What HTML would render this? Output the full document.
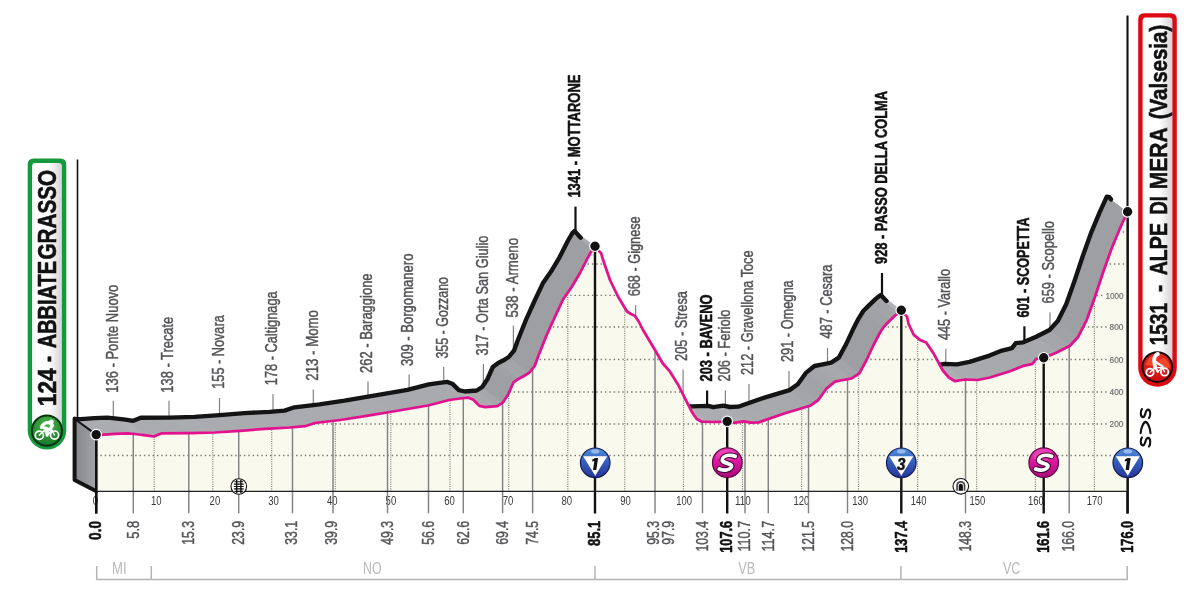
<!DOCTYPE html>
<html><head><meta charset="utf-8"><title>Stage profile</title>
<style>
html,body{margin:0;padding:0;background:#ffffff;}
body{width:1200px;height:600px;overflow:hidden;position:relative;font-family:"Liberation Sans", sans-serif;}
svg text{font-family:"Liberation Sans", sans-serif;}
</style></head>
<body>
<svg width="1200" height="600" viewBox="0 0 1200 600" style="position:absolute;left:0;top:0;will-change:transform">
<defs>
<linearGradient id="gbox" x1="0" x2="1" y1="0" y2="0"><stop offset="0" stop-color="#ffffff"/><stop offset="0.55" stop-color="#ffffff"/><stop offset="1" stop-color="#d3d3d8"/></linearGradient>
<linearGradient id="gface" x1="0" x2="1" y1="0" y2="0"><stop offset="0" stop-color="#86878b"/><stop offset="1" stop-color="#a3a4a8"/></linearGradient>
<linearGradient id="gkom" x1="0" x2="0" y1="0" y2="1"><stop offset="0" stop-color="#4f8fdd"/><stop offset="0.45" stop-color="#3560bd"/><stop offset="1" stop-color="#28359a"/></linearGradient>
<linearGradient id="gspr" x1="0" x2="0" y1="0" y2="1"><stop offset="0" stop-color="#ee3cb6"/><stop offset="0.5" stop-color="#d8159c"/><stop offset="1" stop-color="#a80d7a"/></linearGradient>
<radialGradient id="ggreen" cx="0.5" cy="0.3" r="0.75"><stop offset="0" stop-color="#4db848"/><stop offset="1" stop-color="#14702a"/></radialGradient>
<radialGradient id="gred" cx="0.5" cy="0.3" r="0.75"><stop offset="0" stop-color="#f0302a"/><stop offset="1" stop-color="#c40a12"/></radialGradient>
</defs>
<g id="leaders">
<line x1="113.3" x2="113.3" y1="400.7" y2="418.2" stroke="#828280" stroke-width="1.2"/>
<line x1="169.0" x2="169.0" y1="400.7" y2="417.6" stroke="#828280" stroke-width="1.2"/>
<line x1="219.5" x2="219.5" y1="398.0" y2="415.1" stroke="#828280" stroke-width="1.2"/>
<line x1="273.0" x2="273.0" y1="394.0" y2="411.5" stroke="#828280" stroke-width="1.2"/>
<line x1="313.3" x2="313.3" y1="389.5" y2="405.0" stroke="#828280" stroke-width="1.2"/>
<line x1="368.0" x2="368.0" y1="381.4" y2="396.6" stroke="#828280" stroke-width="1.2"/>
<line x1="409.1" x2="409.1" y1="374.5" y2="389.4" stroke="#828280" stroke-width="1.2"/>
<line x1="443.7" x2="443.7" y1="367.0" y2="382.3" stroke="#828280" stroke-width="1.2"/>
<line x1="483.4" x2="483.4" y1="364.0" y2="385.2" stroke="#828280" stroke-width="1.2"/>
<line x1="513.4" x2="513.4" y1="325.6" y2="351.3" stroke="#828280" stroke-width="1.2"/>
<line x1="575.5" x2="575.5" y1="206.6" y2="232.1" stroke="#111" stroke-width="2.2"/>
<line x1="635.6" x2="635.6" y1="305.0" y2="336.2" stroke="#828280" stroke-width="1.2"/>
<line x1="683.1" x2="683.1" y1="369.5" y2="406.1" stroke="#828280" stroke-width="1.2"/>
<line x1="707.1" x2="707.1" y1="390.5" y2="405.9" stroke="#111" stroke-width="2.2"/>
<line x1="725.4" x2="725.4" y1="390.5" y2="406.0" stroke="#828280" stroke-width="1.2"/>
<line x1="749.0" x2="749.0" y1="384.0" y2="402.9" stroke="#828280" stroke-width="1.2"/>
<line x1="789.0" x2="789.0" y1="371.0" y2="390.3" stroke="#828280" stroke-width="1.2"/>
<line x1="827.5" x2="827.5" y1="348.0" y2="363.3" stroke="#828280" stroke-width="1.2"/>
<line x1="882.0" x2="882.0" y1="273.0" y2="296.2" stroke="#111" stroke-width="2.2"/>
<line x1="945.8" x2="945.8" y1="348.8" y2="363.9" stroke="#828280" stroke-width="1.2"/>
<line x1="1024.4" x2="1024.4" y1="326.3" y2="341.8" stroke="#111" stroke-width="2.2"/>
<line x1="1050.0" x2="1050.0" y1="312.5" y2="329.5" stroke="#828280" stroke-width="1.2"/>
</g>
<line x1="77.5" x2="77.5" y1="159.5" y2="419" stroke="#111" stroke-width="1.6"/>
<line x1="1127.5" x2="1127.5" y1="15.6" y2="513.5" stroke="#111" stroke-width="2.1"/>
<g fill="#a9aaae" stroke="#a9aaae" stroke-width="0.5" stroke-linejoin="round">
<polygon points="75.7,419.1 80.8,419.1 94.5,418.2 107.0,417.6 114.5,418.3 125.5,419.7 133.2,420.8 140.8,417.7 169.5,417.6 194.5,416.8 219.5,415.1 244.5,413.1 269.5,411.8 284.5,410.6 294.5,407.3 319.5,404.3 344.5,400.6 369.5,396.3 407.5,389.8 428.8,384.3 439.5,382.8 447.5,381.9 452.8,384.1 458.8,390.1 464.8,391.5 476.8,390.5 482.2,387.0 487.5,379.0 492.8,367.0 498.2,363.0 503.5,360.3 508.8,357.0 514.2,350.3 517.8,340.3 526.2,319.3 534.5,301.0 542.8,283.3 551.2,271.3 559.5,257.3 567.8,241.0 572.5,232.9 574.5,231.0 580.7,237.7 582.1,242.8 589.5,264.3 597.5,280.8 606.5,295.8 610.5,298.3 614.5,300.3 618.5,306.3 622.5,314.3 634.5,334.3 642.0,347.3 649.5,356.0 657.8,369.3 664.5,382.6 671.2,396.0 676.2,403.3 681.2,406.0 691.5,406.3 708.3,405.9 713.3,407.2 723.3,405.6 730.0,407.0 738.3,406.7 746.7,403.7 764.5,397.6 781.2,392.6 789.5,390.1 797.8,384.3 806.2,372.6 814.5,366.0 822.8,364.3 831.2,362.6 838.8,357.6 845.8,344.8 852.8,329.8 858.7,318.3 863.3,311.0 869.2,305.1 875.7,298.9 878.7,296.5 880.8,294.9 886.5,300.9 888.1,308.3 893.2,319.3 899.5,324.3 905.8,326.8 913.2,338.1 922.0,354.3 928.2,361.8 934.5,365.6 944.5,363.8 957.0,364.3 969.5,361.8 989.5,355.6 1002.0,350.6 1012.0,348.1 1015.8,343.1 1023.2,342.3 1036.2,336.8 1049.5,330.0 1057.8,321.0 1066.2,304.3 1074.5,281.0 1082.8,256.0 1091.2,232.6 1099.5,212.6 1106.8,196.6 1127.3,212.3 1120.0,228.3 1111.7,248.3 1103.3,271.7 1095.0,296.7 1086.7,320.0 1078.3,336.7 1070.0,345.7 1056.7,352.5 1043.8,358.0 1036.2,358.8 1032.5,363.8 1022.5,366.2 1010.0,371.2 990.0,377.5 977.5,380.0 965.0,379.5 955.0,381.2 948.8,377.5 942.5,370.0 933.8,353.8 926.2,342.5 920.0,340.0 913.8,335.0 908.6,324.0 907.0,316.6 901.3,310.6 899.2,312.2 896.2,314.6 889.7,320.8 883.8,326.7 879.2,334.0 873.3,345.5 866.3,360.5 859.3,373.3 851.7,378.3 843.3,380.0 835.0,381.7 826.7,388.3 818.3,400.0 810.0,405.8 801.7,408.3 785.0,413.3 767.2,419.4 758.8,422.4 750.5,422.7 743.8,421.3 733.8,422.9 728.8,421.6 712.0,422.0 701.7,421.7 696.7,419.0 691.7,411.7 685.0,398.3 678.3,385.0 670.0,371.7 662.5,363.0 655.0,350.0 643.0,330.0 639.0,322.0 635.0,316.0 631.0,314.0 627.0,311.5 618.0,296.5 610.0,280.0 602.6,258.5 601.2,253.4 595.0,246.7 593.0,248.6 588.3,256.7 580.0,273.0 571.7,287.0 563.3,299.0 555.0,316.7 546.7,335.0 538.3,356.0 534.7,366.0 529.3,372.7 524.0,376.0 518.7,378.7 513.3,382.7 508.0,394.7 502.7,402.7 497.3,406.2 485.3,407.2 479.3,405.8 473.3,399.8 468.0,397.6 460.0,398.5 449.3,400.0 428.0,405.5 390.0,412.0 365.0,416.2 340.0,420.0 315.0,423.0 305.0,426.2 290.0,427.5 265.0,428.8 240.0,430.8 215.0,432.5 190.0,433.2 161.2,433.4 153.8,436.5 146.0,435.4 135.0,434.0 127.5,433.3 115.0,433.9 101.3,434.8 96.2,434.8" stroke="none"/>
<polygon points="96.2,434.8 101.3,434.8 80.8,419.1 75.7,419.1" fill="#abacb0" stroke="#abacb0"/>
<polygon points="101.3,434.8 115.0,433.9 94.5,418.2 80.8,419.1" fill="#abacb0" stroke="#abacb0"/>
<polygon points="115.0,433.9 127.5,433.3 107.0,417.6 94.5,418.2" fill="#abacb0" stroke="#abacb0"/>
<polygon points="127.5,433.3 135.0,434.0 114.5,418.3 107.0,417.6" fill="#adaeb2" stroke="#adaeb2"/>
<polygon points="135.0,434.0 146.0,435.4 125.5,419.7 114.5,418.3" fill="#b0b1b5" stroke="#b0b1b5"/>
<polygon points="146.0,435.4 153.8,436.5 133.2,420.8 125.5,419.7" fill="#abacb0" stroke="#abacb0"/>
<polygon points="153.8,436.5 161.2,433.4 140.8,417.7 133.2,420.8" fill="#abacb0" stroke="#abacb0"/>
<polygon points="161.2,433.4 190.0,433.2 169.5,417.6 140.8,417.7" fill="#aaabaf" stroke="#aaabaf"/>
<polygon points="190.0,433.2 215.0,432.5 194.5,416.8 169.5,417.6" fill="#abacb0" stroke="#abacb0"/>
<polygon points="215.0,432.5 240.0,430.8 219.5,415.1 194.5,416.8" fill="#aaabaf" stroke="#aaabaf"/>
<polygon points="240.0,430.8 265.0,428.8 244.5,413.1 219.5,415.1" fill="#aaabaf" stroke="#aaabaf"/>
<polygon points="265.0,428.8 290.0,427.5 269.5,411.8 244.5,413.1" fill="#aaabaf" stroke="#aaabaf"/>
<polygon points="290.0,427.5 305.0,426.2 284.5,410.6 269.5,411.8" fill="#aaabaf" stroke="#aaabaf"/>
<polygon points="305.0,426.2 315.0,423.0 294.5,407.3 284.5,410.6" fill="#aaabaf" stroke="#aaabaf"/>
<polygon points="315.0,423.0 340.0,420.0 319.5,404.3 294.5,407.3" fill="#aaabaf" stroke="#aaabaf"/>
<polygon points="340.0,420.0 365.0,416.2 344.5,400.6 319.5,404.3" fill="#aaabaf" stroke="#aaabaf"/>
<polygon points="365.0,416.2 390.0,412.0 369.5,396.3 344.5,400.6" fill="#aaabaf" stroke="#aaabaf"/>
<polygon points="390.0,412.0 428.0,405.5 407.5,389.8 369.5,396.3" fill="#a9aaae" stroke="#a9aaae"/>
<polygon points="428.0,405.5 449.3,400.0 428.8,384.3 407.5,389.8" fill="#a9aaae" stroke="#a9aaae"/>
<polygon points="449.3,400.0 460.0,398.5 439.5,382.8 428.8,384.3" fill="#a9aaae" stroke="#a9aaae"/>
<polygon points="460.0,398.5 468.0,397.6 447.5,381.9 439.5,382.8" fill="#abacb0" stroke="#abacb0"/>
<polygon points="468.0,397.6 473.3,399.8 452.8,384.1 447.5,381.9" fill="#babbbf" stroke="#babbbf"/>
<polygon points="473.3,399.8 479.3,405.8 458.8,390.1 452.8,384.1" fill="#babbbf" stroke="#babbbf"/>
<polygon points="479.3,405.8 485.3,407.2 464.8,391.5 458.8,390.1" fill="#b6b7bb" stroke="#b6b7bb"/>
<polygon points="485.3,407.2 497.3,406.2 476.8,390.5 464.8,391.5" fill="#aaabaf" stroke="#aaabaf"/>
<polygon points="497.3,406.2 502.7,402.7 482.2,387.0 476.8,390.5" fill="#a6a7ab" stroke="#a6a7ab"/>
<polygon points="502.7,402.7 508.0,394.7 487.5,379.0 482.2,387.0" fill="#9e9fa3" stroke="#9e9fa3"/>
<polygon points="508.0,394.7 513.3,382.7 492.8,367.0 487.5,379.0" fill="#9e9fa3" stroke="#9e9fa3"/>
<polygon points="513.3,382.7 518.7,378.7 498.2,363.0 492.8,367.0" fill="#a0a1a5" stroke="#a0a1a5"/>
<polygon points="518.7,378.7 524.0,376.0 503.5,360.3 498.2,363.0" fill="#a5a6aa" stroke="#a5a6aa"/>
<polygon points="524.0,376.0 529.3,372.7 508.8,357.0 503.5,360.3" fill="#a4a5a9" stroke="#a4a5a9"/>
<polygon points="529.3,372.7 534.7,366.0 514.2,350.3 508.8,357.0" fill="#9e9fa3" stroke="#9e9fa3"/>
<polygon points="534.7,366.0 538.3,356.0 517.8,340.3 514.2,350.3" fill="#9e9fa3" stroke="#9e9fa3"/>
<polygon points="538.3,356.0 546.7,335.0 526.2,319.3 517.8,340.3" fill="#9e9fa3" stroke="#9e9fa3"/>
<polygon points="546.7,335.0 555.0,316.7 534.5,301.0 526.2,319.3" fill="#9e9fa3" stroke="#9e9fa3"/>
<polygon points="555.0,316.7 563.3,299.0 542.8,283.3 534.5,301.0" fill="#9e9fa3" stroke="#9e9fa3"/>
<polygon points="563.3,299.0 571.7,287.0 551.2,271.3 542.8,283.3" fill="#9e9fa3" stroke="#9e9fa3"/>
<polygon points="571.7,287.0 580.0,273.0 559.5,257.3 551.2,271.3" fill="#9e9fa3" stroke="#9e9fa3"/>
<polygon points="580.0,273.0 588.3,256.7 567.8,241.0 559.5,257.3" fill="#9e9fa3" stroke="#9e9fa3"/>
<polygon points="588.3,256.7 593.0,248.6 572.5,232.9 567.8,241.0" fill="#9e9fa3" stroke="#9e9fa3"/>
<polygon points="593.0,248.6 595.0,246.7 574.5,231.0 572.5,232.9" fill="#a9aaae" stroke="#a9aaae"/>
<polygon points="595.0,246.7 601.2,253.4 580.7,237.7 574.5,231.0" fill="#a9aaae" stroke="#a9aaae"/>
<polygon points="627.0,311.5 631.0,314.0 610.5,298.3 606.5,295.8" fill="#bbbcc0" stroke="#bbbcc0"/>
<polygon points="631.0,314.0 635.0,316.0 614.5,300.3 610.5,298.3" fill="#bbbcc0" stroke="#bbbcc0"/>
<polygon points="662.5,363.0 670.0,371.7 649.5,356.0 642.0,347.3" fill="#bbbcc0" stroke="#bbbcc0"/>
<polygon points="696.7,419.0 701.7,421.7 681.2,406.0 676.2,403.3" fill="#bbbcc0" stroke="#bbbcc0"/>
<polygon points="701.7,421.7 712.0,422.0 691.5,406.3 681.2,406.0" fill="#aeafb3" stroke="#aeafb3"/>
<polygon points="712.0,422.0 728.8,421.6 708.3,405.9 691.5,406.3" fill="#acadb1" stroke="#acadb1"/>
<polygon points="728.8,421.6 733.8,422.9 713.3,407.2 708.3,405.9" fill="#abacb0" stroke="#abacb0"/>
<polygon points="733.8,422.9 743.8,421.3 723.3,405.6 713.3,407.2" fill="#adaeb2" stroke="#adaeb2"/>
<polygon points="743.8,421.3 750.5,422.7 730.0,407.0 723.3,405.6" fill="#abacb0" stroke="#abacb0"/>
<polygon points="750.5,422.7 758.8,422.4 738.3,406.7 730.0,407.0" fill="#aaabaf" stroke="#aaabaf"/>
<polygon points="758.8,422.4 767.2,419.4 746.7,403.7 738.3,406.7" fill="#a9aaae" stroke="#a9aaae"/>
<polygon points="767.2,419.4 785.0,413.3 764.5,397.6 746.7,403.7" fill="#a8a9ad" stroke="#a8a9ad"/>
<polygon points="785.0,413.3 801.7,408.3 781.2,392.6 764.5,397.6" fill="#a8a9ad" stroke="#a8a9ad"/>
<polygon points="801.7,408.3 810.0,405.8 789.5,390.1 781.2,392.6" fill="#a7a8ac" stroke="#a7a8ac"/>
<polygon points="810.0,405.8 818.3,400.0 797.8,384.3 789.5,390.1" fill="#a4a5a9" stroke="#a4a5a9"/>
<polygon points="818.3,400.0 826.7,388.3 806.2,372.6 797.8,384.3" fill="#a2a3a7" stroke="#a2a3a7"/>
<polygon points="826.7,388.3 835.0,381.7 814.5,366.0 806.2,372.6" fill="#a4a5a9" stroke="#a4a5a9"/>
<polygon points="835.0,381.7 843.3,380.0 822.8,364.3 814.5,366.0" fill="#a7a8ac" stroke="#a7a8ac"/>
<polygon points="843.3,380.0 851.7,378.3 831.2,362.6 822.8,364.3" fill="#a8a9ad" stroke="#a8a9ad"/>
<polygon points="851.7,378.3 859.3,373.3 838.8,357.6 831.2,362.6" fill="#a3a4a8" stroke="#a3a4a8"/>
<polygon points="859.3,373.3 866.3,360.5 845.8,344.8 838.8,357.6" fill="#9e9fa3" stroke="#9e9fa3"/>
<polygon points="866.3,360.5 873.3,345.5 852.8,329.8 845.8,344.8" fill="#9e9fa3" stroke="#9e9fa3"/>
<polygon points="873.3,345.5 879.2,334.0 858.7,318.3 852.8,329.8" fill="#9e9fa3" stroke="#9e9fa3"/>
<polygon points="879.2,334.0 883.8,326.7 863.3,311.0 858.7,318.3" fill="#9e9fa3" stroke="#9e9fa3"/>
<polygon points="883.8,326.7 889.7,320.8 869.2,305.1 863.3,311.0" fill="#a1a2a6" stroke="#a1a2a6"/>
<polygon points="889.7,320.8 896.2,314.6 875.7,298.9 869.2,305.1" fill="#a3a4a8" stroke="#a3a4a8"/>
<polygon points="896.2,314.6 899.2,312.2 878.7,296.5 875.7,298.9" fill="#a3a4a8" stroke="#a3a4a8"/>
<polygon points="899.2,312.2 901.3,310.6 880.8,294.9 878.7,296.5" fill="#b2b3b7" stroke="#b2b3b7"/>
<polygon points="901.3,310.6 907.0,316.6 886.5,300.9 880.8,294.9" fill="#b2b3b7" stroke="#b2b3b7"/>
<polygon points="913.8,335.0 920.0,340.0 899.5,324.3 893.2,319.3" fill="#b2b3b7" stroke="#b2b3b7"/>
<polygon points="920.0,340.0 926.2,342.5 905.8,326.8 899.5,324.3" fill="#bbbcc0" stroke="#bbbcc0"/>
<polygon points="942.5,370.0 948.8,377.5 928.2,361.8 922.0,354.3" fill="#bbbcc0" stroke="#bbbcc0"/>
<polygon points="948.8,377.5 955.0,381.2 934.5,365.6 928.2,361.8" fill="#bbbcc0" stroke="#bbbcc0"/>
<polygon points="955.0,381.2 965.0,379.5 944.5,363.8 934.5,365.6" fill="#aeafb3" stroke="#aeafb3"/>
<polygon points="965.0,379.5 977.5,380.0 957.0,364.3 944.5,363.8" fill="#aaabaf" stroke="#aaabaf"/>
<polygon points="977.5,380.0 990.0,377.5 969.5,361.8 957.0,364.3" fill="#a9aaae" stroke="#a9aaae"/>
<polygon points="990.0,377.5 1010.0,371.2 989.5,355.6 969.5,361.8" fill="#a8a9ad" stroke="#a8a9ad"/>
<polygon points="1010.0,371.2 1022.5,366.2 1002.0,350.6 989.5,355.6" fill="#a8a9ad" stroke="#a8a9ad"/>
<polygon points="1022.5,366.2 1032.5,363.8 1012.0,348.1 1002.0,350.6" fill="#a7a8ac" stroke="#a7a8ac"/>
<polygon points="1032.5,363.8 1036.2,358.8 1015.8,343.1 1012.0,348.1" fill="#a8a9ad" stroke="#a8a9ad"/>
<polygon points="1036.2,358.8 1043.8,358.0 1023.2,342.3 1015.8,343.1" fill="#a7a8ac" stroke="#a7a8ac"/>
<polygon points="1043.8,358.0 1056.7,352.5 1036.2,336.8 1023.2,342.3" fill="#a8a9ad" stroke="#a8a9ad"/>
<polygon points="1056.7,352.5 1070.0,345.7 1049.5,330.0 1036.2,336.8" fill="#a5a6aa" stroke="#a5a6aa"/>
<polygon points="1070.0,345.7 1078.3,336.7 1057.8,321.0 1049.5,330.0" fill="#a1a2a6" stroke="#a1a2a6"/>
<polygon points="1078.3,336.7 1086.7,320.0 1066.2,304.3 1057.8,321.0" fill="#9e9fa3" stroke="#9e9fa3"/>
<polygon points="1086.7,320.0 1095.0,296.7 1074.5,281.0 1066.2,304.3" fill="#9e9fa3" stroke="#9e9fa3"/>
<polygon points="1095.0,296.7 1103.3,271.7 1082.8,256.0 1074.5,281.0" fill="#9e9fa3" stroke="#9e9fa3"/>
<polygon points="1103.3,271.7 1111.7,248.3 1091.2,232.6 1082.8,256.0" fill="#9e9fa3" stroke="#9e9fa3"/>
<polygon points="1111.7,248.3 1120.0,228.3 1099.5,212.6 1091.2,232.6" fill="#9e9fa3" stroke="#9e9fa3"/>
<polygon points="1120.0,228.3 1127.3,212.3 1106.8,196.6 1099.5,212.6" fill="#9e9fa3" stroke="#9e9fa3"/>
</g>
<polyline points="75.7,419.1 80.8,419.1 94.5,418.2 107.0,417.6 114.5,418.3 125.5,419.7 133.2,420.8 140.8,417.7 169.5,417.6 194.5,416.8 219.5,415.1 244.5,413.1 269.5,411.8 284.5,410.6 294.5,407.3 319.5,404.3 344.5,400.6 369.5,396.3 407.5,389.8 428.8,384.3 439.5,382.8 447.5,381.9 452.8,384.1 458.8,390.1 464.8,391.5 476.8,390.5 482.2,387.0 487.5,379.0 492.8,367.0 498.2,363.0 503.5,360.3 508.8,357.0 514.2,350.3 517.8,340.3 526.2,319.3 534.5,301.0 542.8,283.3 551.2,271.3 559.5,257.3 567.8,241.0 572.5,232.9 574.5,231.0 580.7,237.7" fill="none" stroke="#141414" stroke-width="4.35" stroke-linejoin="round" stroke-linecap="round"/>
<polyline points="606.5,295.8 610.5,298.3 614.5,300.3" fill="none" stroke="#141414" stroke-width="4.35" stroke-linejoin="round" stroke-linecap="round"/>
<polyline points="642.0,347.3 649.5,356.0" fill="none" stroke="#141414" stroke-width="4.35" stroke-linejoin="round" stroke-linecap="round"/>
<polyline points="676.2,403.3 681.2,406.0 691.5,406.3 708.3,405.9 713.3,407.2 723.3,405.6 730.0,407.0 738.3,406.7 746.7,403.7 764.5,397.6 781.2,392.6 789.5,390.1 797.8,384.3 806.2,372.6 814.5,366.0 822.8,364.3 831.2,362.6 838.8,357.6 845.8,344.8 852.8,329.8 858.7,318.3 863.3,311.0 869.2,305.1 875.7,298.9 878.7,296.5 880.8,294.9 886.5,300.9" fill="none" stroke="#141414" stroke-width="4.35" stroke-linejoin="round" stroke-linecap="round"/>
<polyline points="893.2,319.3 899.5,324.3 905.8,326.8" fill="none" stroke="#141414" stroke-width="4.35" stroke-linejoin="round" stroke-linecap="round"/>
<polyline points="922.0,354.3 928.2,361.8 934.5,365.6 944.5,363.8 957.0,364.3 969.5,361.8 989.5,355.6 1002.0,350.6 1012.0,348.1 1015.8,343.1 1023.2,342.3 1036.2,336.8 1049.5,330.0 1057.8,321.0 1066.2,304.3 1074.5,281.0 1082.8,256.0 1091.2,232.6 1099.5,212.6 1106.8,196.6 1109.4,197.2 1111.0,199.4" fill="none" stroke="#141414" stroke-width="4.35" stroke-linejoin="round" stroke-linecap="round"/>
<polygon points="75.1,419.3 96.2,434.6 96.2,491.4 74.6,480.0" fill="url(#gface)"/>
<polyline points="74.6,418.6 74.6,480.0 96.4,491.2" fill="none" stroke="#141414" stroke-width="4" stroke-linejoin="round" stroke-linecap="round"/>
<line x1="75.5" y1="419.5" x2="96.2" y2="434.6" stroke="#141414" stroke-width="2"/>
<polygon points="96.2,434.8 101.3,434.8 115.0,433.9 127.5,433.3 135.0,434.0 146.0,435.4 153.8,436.5 161.2,433.4 190.0,433.2 215.0,432.5 240.0,430.8 265.0,428.8 290.0,427.5 305.0,426.2 315.0,423.0 340.0,420.0 365.0,416.2 390.0,412.0 428.0,405.5 449.3,400.0 460.0,398.5 468.0,397.6 473.3,399.8 479.3,405.8 485.3,407.2 497.3,406.2 502.7,402.7 508.0,394.7 513.3,382.7 518.7,378.7 524.0,376.0 529.3,372.7 534.7,366.0 538.3,356.0 546.7,335.0 555.0,316.7 563.3,299.0 571.7,287.0 580.0,273.0 588.3,256.7 593.0,248.6 595.0,246.7 601.2,253.4 602.6,258.5 610.0,280.0 618.0,296.5 627.0,311.5 631.0,314.0 635.0,316.0 639.0,322.0 643.0,330.0 655.0,350.0 662.5,363.0 670.0,371.7 678.3,385.0 685.0,398.3 691.7,411.7 696.7,419.0 701.7,421.7 712.0,422.0 728.8,421.6 733.8,422.9 743.8,421.3 750.5,422.7 758.8,422.4 767.2,419.4 785.0,413.3 801.7,408.3 810.0,405.8 818.3,400.0 826.7,388.3 835.0,381.7 843.3,380.0 851.7,378.3 859.3,373.3 866.3,360.5 873.3,345.5 879.2,334.0 883.8,326.7 889.7,320.8 896.2,314.6 899.2,312.2 901.3,310.6 907.0,316.6 908.6,324.0 913.8,335.0 920.0,340.0 926.2,342.5 933.8,353.8 942.5,370.0 948.8,377.5 955.0,381.2 965.0,379.5 977.5,380.0 990.0,377.5 1010.0,371.2 1022.5,366.2 1032.5,363.8 1036.2,358.8 1043.8,358.0 1056.7,352.5 1070.0,345.7 1078.3,336.7 1086.7,320.0 1095.0,296.7 1103.3,271.7 1111.7,248.3 1120.0,228.3 1127.3,212.3 1127.6,491.4 96.2,491.4" fill="#f9f9ee"/>
<clipPath id="cl"><polygon points="96.2,434.8 101.3,434.8 115.0,433.9 127.5,433.3 135.0,434.0 146.0,435.4 153.8,436.5 161.2,433.4 190.0,433.2 215.0,432.5 240.0,430.8 265.0,428.8 290.0,427.5 305.0,426.2 315.0,423.0 340.0,420.0 365.0,416.2 390.0,412.0 428.0,405.5 449.3,400.0 460.0,398.5 468.0,397.6 473.3,399.8 479.3,405.8 485.3,407.2 497.3,406.2 502.7,402.7 508.0,394.7 513.3,382.7 518.7,378.7 524.0,376.0 529.3,372.7 534.7,366.0 538.3,356.0 546.7,335.0 555.0,316.7 563.3,299.0 571.7,287.0 580.0,273.0 588.3,256.7 593.0,248.6 595.0,246.7 601.2,253.4 602.6,258.5 610.0,280.0 618.0,296.5 627.0,311.5 631.0,314.0 635.0,316.0 639.0,322.0 643.0,330.0 655.0,350.0 662.5,363.0 670.0,371.7 678.3,385.0 685.0,398.3 691.7,411.7 696.7,419.0 701.7,421.7 712.0,422.0 728.8,421.6 733.8,422.9 743.8,421.3 750.5,422.7 758.8,422.4 767.2,419.4 785.0,413.3 801.7,408.3 810.0,405.8 818.3,400.0 826.7,388.3 835.0,381.7 843.3,380.0 851.7,378.3 859.3,373.3 866.3,360.5 873.3,345.5 879.2,334.0 883.8,326.7 889.7,320.8 896.2,314.6 899.2,312.2 901.3,310.6 907.0,316.6 908.6,324.0 913.8,335.0 920.0,340.0 926.2,342.5 933.8,353.8 942.5,370.0 948.8,377.5 955.0,381.2 965.0,379.5 977.5,380.0 990.0,377.5 1010.0,371.2 1022.5,366.2 1032.5,363.8 1036.2,358.8 1043.8,358.0 1056.7,352.5 1070.0,345.7 1078.3,336.7 1086.7,320.0 1095.0,296.7 1103.3,271.7 1111.7,248.3 1120.0,228.3 1127.3,212.3 1127.6,491.4 96.2,491.4"/></clipPath>
<g clip-path="url(#cl)">
<line x1="96" x2="1128" y1="455.5" y2="455.5" stroke="#7c7c74" stroke-width="1.35" stroke-dasharray="1.45 2.9"/>
<line x1="96" x2="1128" y1="424.0" y2="424.0" stroke="#7c7c74" stroke-width="1.35" stroke-dasharray="1.45 2.9"/>
<line x1="96" x2="1128" y1="392.0" y2="392.0" stroke="#7c7c74" stroke-width="1.35" stroke-dasharray="1.45 2.9"/>
<line x1="96" x2="1128" y1="359.5" y2="359.5" stroke="#7c7c74" stroke-width="1.35" stroke-dasharray="1.45 2.9"/>
<line x1="96" x2="1128" y1="327.0" y2="327.0" stroke="#7c7c74" stroke-width="1.35" stroke-dasharray="1.45 2.9"/>
<line x1="96" x2="1128" y1="295.3" y2="295.3" stroke="#7c7c74" stroke-width="1.35" stroke-dasharray="1.45 2.9"/>
<line x1="96" x2="1128" y1="264.0" y2="264.0" stroke="#7c7c74" stroke-width="1.35" stroke-dasharray="1.45 2.9"/>
<line x1="96" x2="1128" y1="232.0" y2="232.0" stroke="#7c7c74" stroke-width="1.35" stroke-dasharray="1.45 2.9"/>
<line x1="154.2" x2="154.2" y1="180" y2="491.4" stroke="#85857d" stroke-width="1.25" stroke-dasharray="1.1 1.15"/>
<line x1="212.8" x2="212.8" y1="180" y2="491.4" stroke="#85857d" stroke-width="1.25" stroke-dasharray="1.1 1.15"/>
<line x1="271.7" x2="271.7" y1="180" y2="491.4" stroke="#85857d" stroke-width="1.25" stroke-dasharray="1.1 1.15"/>
<line x1="335.3" x2="335.3" y1="180" y2="491.4" stroke="#85857d" stroke-width="1.25" stroke-dasharray="1.1 1.15"/>
<line x1="390.8" x2="390.8" y1="180" y2="491.4" stroke="#85857d" stroke-width="1.25" stroke-dasharray="1.1 1.15"/>
<line x1="450.0" x2="450.0" y1="180" y2="491.4" stroke="#85857d" stroke-width="1.25" stroke-dasharray="1.1 1.15"/>
<line x1="508.7" x2="508.7" y1="180" y2="491.4" stroke="#85857d" stroke-width="1.25" stroke-dasharray="1.1 1.15"/>
<line x1="567.8" x2="567.8" y1="180" y2="491.4" stroke="#85857d" stroke-width="1.25" stroke-dasharray="1.1 1.15"/>
<line x1="624.7" x2="624.7" y1="180" y2="491.4" stroke="#85857d" stroke-width="1.25" stroke-dasharray="1.1 1.15"/>
<line x1="683.5" x2="683.5" y1="180" y2="491.4" stroke="#85857d" stroke-width="1.25" stroke-dasharray="1.1 1.15"/>
<line x1="742.5" x2="742.5" y1="180" y2="491.4" stroke="#85857d" stroke-width="1.25" stroke-dasharray="1.1 1.15"/>
<line x1="801.6" x2="801.6" y1="180" y2="491.4" stroke="#85857d" stroke-width="1.25" stroke-dasharray="1.1 1.15"/>
<line x1="858.5" x2="858.5" y1="180" y2="491.4" stroke="#85857d" stroke-width="1.25" stroke-dasharray="1.1 1.15"/>
<line x1="917.6" x2="917.6" y1="180" y2="491.4" stroke="#85857d" stroke-width="1.25" stroke-dasharray="1.1 1.15"/>
<line x1="976.6" x2="976.6" y1="180" y2="491.4" stroke="#85857d" stroke-width="1.25" stroke-dasharray="1.1 1.15"/>
<line x1="1035.4" x2="1035.4" y1="180" y2="491.4" stroke="#85857d" stroke-width="1.25" stroke-dasharray="1.1 1.15"/>
<line x1="1094.4" x2="1094.4" y1="180" y2="491.4" stroke="#85857d" stroke-width="1.25" stroke-dasharray="1.1 1.15"/>
</g>
<g font-family='"Liberation Sans", sans-serif' font-size="12.2" fill="#3a3a3a" text-anchor="middle">
<text x="95.4" y="505" textLength="5.4" lengthAdjust="spacingAndGlyphs">0</text>
<text x="156.2" y="505" textLength="10.6" lengthAdjust="spacingAndGlyphs">10</text>
<text x="214.9" y="505" textLength="10.6" lengthAdjust="spacingAndGlyphs">20</text>
<text x="273.6" y="505" textLength="10.6" lengthAdjust="spacingAndGlyphs">30</text>
<text x="332.2" y="505" textLength="10.6" lengthAdjust="spacingAndGlyphs">40</text>
<text x="390.9" y="505" textLength="10.6" lengthAdjust="spacingAndGlyphs">50</text>
<text x="449.5" y="505" textLength="10.6" lengthAdjust="spacingAndGlyphs">60</text>
<text x="508.1" y="505" textLength="10.6" lengthAdjust="spacingAndGlyphs">70</text>
<text x="566.8" y="505" textLength="10.6" lengthAdjust="spacingAndGlyphs">80</text>
<text x="625.5" y="505" textLength="10.6" lengthAdjust="spacingAndGlyphs">90</text>
<text x="684.1" y="505" textLength="15.8" lengthAdjust="spacingAndGlyphs">100</text>
<text x="742.8" y="505" textLength="15.8" lengthAdjust="spacingAndGlyphs">110</text>
<text x="801.4" y="505" textLength="15.8" lengthAdjust="spacingAndGlyphs">120</text>
<text x="860.1" y="505" textLength="15.8" lengthAdjust="spacingAndGlyphs">130</text>
<text x="918.7" y="505" textLength="15.8" lengthAdjust="spacingAndGlyphs">140</text>
<text x="977.4" y="505" textLength="15.8" lengthAdjust="spacingAndGlyphs">150</text>
<text x="1036.0" y="505" textLength="15.8" lengthAdjust="spacingAndGlyphs">160</text>
<text x="1094.7" y="505" textLength="15.8" lengthAdjust="spacingAndGlyphs">170</text>
</g>
<line x1="96.2" x2="96.2" y1="434.8" y2="513.5" stroke="#111" stroke-width="2.4"/>
<line x1="133.3" x2="133.3" y1="433.8" y2="513.3" stroke="#828280" stroke-width="1.45"/>
<line x1="188.8" x2="188.8" y1="433.3" y2="513.3" stroke="#828280" stroke-width="1.45"/>
<line x1="238.7" x2="238.7" y1="430.8" y2="513.3" stroke="#828280" stroke-width="1.45"/>
<line x1="292.5" x2="292.5" y1="427.3" y2="513.3" stroke="#828280" stroke-width="1.45"/>
<line x1="333.0" x2="333.0" y1="420.8" y2="513.3" stroke="#828280" stroke-width="1.45"/>
<line x1="387.5" x2="387.5" y1="412.4" y2="513.3" stroke="#828280" stroke-width="1.45"/>
<line x1="428.5" x2="428.5" y1="405.4" y2="513.3" stroke="#828280" stroke-width="1.45"/>
<line x1="463.3" x2="463.3" y1="398.1" y2="513.3" stroke="#828280" stroke-width="1.45"/>
<line x1="502.6" x2="502.6" y1="402.8" y2="513.3" stroke="#828280" stroke-width="1.45"/>
<line x1="532.6" x2="532.6" y1="368.6" y2="513.3" stroke="#828280" stroke-width="1.45"/>
<line x1="595.0" x2="595.0" y1="246.7" y2="513.5" stroke="#111" stroke-width="2.4"/>
<line x1="655.0" x2="655.0" y1="350.0" y2="513.3" stroke="#828280" stroke-width="1.45"/>
<line x1="702.5" x2="702.5" y1="421.7" y2="513.3" stroke="#828280" stroke-width="1.45"/>
<line x1="727.2" x2="727.2" y1="421.6" y2="513.5" stroke="#111" stroke-width="2.4"/>
<line x1="745.0" x2="745.0" y1="421.6" y2="513.3" stroke="#828280" stroke-width="1.45"/>
<line x1="768.3" x2="768.3" y1="419.0" y2="513.3" stroke="#828280" stroke-width="1.45"/>
<line x1="808.5" x2="808.5" y1="406.3" y2="513.3" stroke="#828280" stroke-width="1.45"/>
<line x1="847.5" x2="847.5" y1="379.1" y2="513.3" stroke="#828280" stroke-width="1.45"/>
<line x1="901.3" x2="901.3" y1="310.6" y2="513.5" stroke="#111" stroke-width="2.4"/>
<line x1="965.5" x2="965.5" y1="379.5" y2="513.3" stroke="#828280" stroke-width="1.45"/>
<line x1="1043.7" x2="1043.7" y1="358.0" y2="513.5" stroke="#111" stroke-width="2.4"/>
<line x1="1069.2" x2="1069.2" y1="346.1" y2="513.3" stroke="#828280" stroke-width="1.45"/>
<line x1="1127.6" x2="1127.6" y1="212.3" y2="513.5" stroke="#111" stroke-width="2.4"/>
<line x1="96" x2="1128.5" y1="491.4" y2="491.4" stroke="#222" stroke-width="1.1"/>
<g font-family='"Liberation Sans", sans-serif'>
<text transform="translate(101.48,540.0) rotate(-90)" font-size="16.5" font-weight="bold" fill="#111" stroke="#111" stroke-width="0.55" textLength="19.2" lengthAdjust="spacingAndGlyphs">0.0</text>
<text transform="translate(138.58,538.8) rotate(-90)" font-size="16.5" fill="#525356" stroke="#525356" stroke-width="0.45" textLength="18.0" lengthAdjust="spacingAndGlyphs">5.8</text>
<text transform="translate(194.08,544.8) rotate(-90)" font-size="16.5" fill="#525356" stroke="#525356" stroke-width="0.45" textLength="24.0" lengthAdjust="spacingAndGlyphs">15.3</text>
<text transform="translate(243.98,544.8) rotate(-90)" font-size="16.5" fill="#525356" stroke="#525356" stroke-width="0.45" textLength="24.0" lengthAdjust="spacingAndGlyphs">23.9</text>
<text transform="translate(296.78,544.8) rotate(-90)" font-size="16.5" fill="#525356" stroke="#525356" stroke-width="0.45" textLength="24.0" lengthAdjust="spacingAndGlyphs">33.1</text>
<text transform="translate(336.88,544.8) rotate(-90)" font-size="16.5" fill="#525356" stroke="#525356" stroke-width="0.45" textLength="24.0" lengthAdjust="spacingAndGlyphs">39.9</text>
<text transform="translate(392.78,544.8) rotate(-90)" font-size="16.5" fill="#525356" stroke="#525356" stroke-width="0.45" textLength="24.0" lengthAdjust="spacingAndGlyphs">49.3</text>
<text transform="translate(433.78,544.8) rotate(-90)" font-size="16.5" fill="#525356" stroke="#525356" stroke-width="0.45" textLength="24.0" lengthAdjust="spacingAndGlyphs">56.6</text>
<text transform="translate(468.58,544.8) rotate(-90)" font-size="16.5" fill="#525356" stroke="#525356" stroke-width="0.45" textLength="24.0" lengthAdjust="spacingAndGlyphs">62.6</text>
<text transform="translate(507.88,544.8) rotate(-90)" font-size="16.5" fill="#525356" stroke="#525356" stroke-width="0.45" textLength="24.0" lengthAdjust="spacingAndGlyphs">69.4</text>
<text transform="translate(537.88,544.8) rotate(-90)" font-size="16.5" fill="#525356" stroke="#525356" stroke-width="0.45" textLength="24.0" lengthAdjust="spacingAndGlyphs">74.5</text>
<text transform="translate(600.28,546.0) rotate(-90)" font-size="16.5" font-weight="bold" fill="#111" stroke="#111" stroke-width="0.55" textLength="25.2" lengthAdjust="spacingAndGlyphs">85.1</text>
<text transform="translate(659.38,544.8) rotate(-90)" font-size="16.5" fill="#525356" stroke="#525356" stroke-width="0.45" textLength="24.0" lengthAdjust="spacingAndGlyphs">95.3</text>
<text transform="translate(673.68,544.8) rotate(-90)" font-size="16.5" fill="#525356" stroke="#525356" stroke-width="0.45" textLength="24.0" lengthAdjust="spacingAndGlyphs">97.9</text>
<text transform="translate(707.78,551.6) rotate(-90)" font-size="16.5" fill="#525356" stroke="#525356" stroke-width="0.45" textLength="30.8" lengthAdjust="spacingAndGlyphs">103.4</text>
<text transform="translate(732.48,552.8) rotate(-90)" font-size="16.5" font-weight="bold" fill="#111" stroke="#111" stroke-width="0.55" textLength="32.0" lengthAdjust="spacingAndGlyphs">107.6</text>
<text transform="translate(750.28,551.6) rotate(-90)" font-size="16.5" fill="#525356" stroke="#525356" stroke-width="0.45" textLength="30.8" lengthAdjust="spacingAndGlyphs">110.7</text>
<text transform="translate(773.58,551.6) rotate(-90)" font-size="16.5" fill="#525356" stroke="#525356" stroke-width="0.45" textLength="30.8" lengthAdjust="spacingAndGlyphs">114.7</text>
<text transform="translate(813.78,551.6) rotate(-90)" font-size="16.5" fill="#525356" stroke="#525356" stroke-width="0.45" textLength="30.8" lengthAdjust="spacingAndGlyphs">121.5</text>
<text transform="translate(852.78,551.6) rotate(-90)" font-size="16.5" fill="#525356" stroke="#525356" stroke-width="0.45" textLength="30.8" lengthAdjust="spacingAndGlyphs">128.0</text>
<text transform="translate(906.58,552.8) rotate(-90)" font-size="16.5" font-weight="bold" fill="#111" stroke="#111" stroke-width="0.55" textLength="32.0" lengthAdjust="spacingAndGlyphs">137.4</text>
<text transform="translate(970.78,551.6) rotate(-90)" font-size="16.5" fill="#525356" stroke="#525356" stroke-width="0.45" textLength="30.8" lengthAdjust="spacingAndGlyphs">148.3</text>
<text transform="translate(1048.98,552.8) rotate(-90)" font-size="16.5" font-weight="bold" fill="#111" stroke="#111" stroke-width="0.55" textLength="32.0" lengthAdjust="spacingAndGlyphs">161.6</text>
<text transform="translate(1074.48,551.6) rotate(-90)" font-size="16.5" fill="#525356" stroke="#525356" stroke-width="0.45" textLength="30.8" lengthAdjust="spacingAndGlyphs">166.0</text>
<text transform="translate(1132.88,552.8) rotate(-90)" font-size="16.5" font-weight="bold" fill="#111" stroke="#111" stroke-width="0.55" textLength="32.0" lengthAdjust="spacingAndGlyphs">176.0</text>
</g>
<polyline points="96.2,434.8 101.3,434.8 115.0,433.9 127.5,433.3 135.0,434.0 146.0,435.4 153.8,436.5 161.2,433.4 190.0,433.2 215.0,432.5 240.0,430.8 265.0,428.8 290.0,427.5 305.0,426.2 315.0,423.0 340.0,420.0 365.0,416.2 390.0,412.0 428.0,405.5 449.3,400.0 460.0,398.5 468.0,397.6 473.3,399.8 479.3,405.8 485.3,407.2 497.3,406.2 502.7,402.7 508.0,394.7 513.3,382.7 518.7,378.7 524.0,376.0 529.3,372.7 534.7,366.0 538.3,356.0 546.7,335.0 555.0,316.7 563.3,299.0 571.7,287.0 580.0,273.0 588.3,256.7 593.0,248.6 595.0,246.7 601.2,253.4 602.6,258.5 610.0,280.0 618.0,296.5 627.0,311.5 631.0,314.0 635.0,316.0 639.0,322.0 643.0,330.0 655.0,350.0 662.5,363.0 670.0,371.7 678.3,385.0 685.0,398.3 691.7,411.7 696.7,419.0 701.7,421.7 712.0,422.0 728.8,421.6 733.8,422.9 743.8,421.3 750.5,422.7 758.8,422.4 767.2,419.4 785.0,413.3 801.7,408.3 810.0,405.8 818.3,400.0 826.7,388.3 835.0,381.7 843.3,380.0 851.7,378.3 859.3,373.3 866.3,360.5 873.3,345.5 879.2,334.0 883.8,326.7 889.7,320.8 896.2,314.6 899.2,312.2 901.3,310.6 907.0,316.6 908.6,324.0 913.8,335.0 920.0,340.0 926.2,342.5 933.8,353.8 942.5,370.0 948.8,377.5 955.0,381.2 965.0,379.5 977.5,380.0 990.0,377.5 1010.0,371.2 1022.5,366.2 1032.5,363.8 1036.2,358.8 1043.8,358.0 1056.7,352.5 1070.0,345.7 1078.3,336.7 1086.7,320.0 1095.0,296.7 1103.3,271.7 1111.7,248.3 1120.0,228.3 1127.3,212.3" fill="none" stroke="#e2128e" stroke-width="2.75" stroke-linejoin="round" stroke-linecap="round"/>
<line x1="96.2" x2="96.2" y1="434.6" y2="513.5" stroke="#111" stroke-width="2.4"/>
<g font-family='"Liberation Sans", sans-serif' font-size="9.4" fill="#6e6f72" text-anchor="end">
<rect x="1108.9" y="420" width="14.9" height="8" fill="#f9f9ee"/>
<text x="1123.4" y="427.4" textLength="13.8" lengthAdjust="spacingAndGlyphs" stroke="#6e6f72" stroke-width="0.2">200</text>
<rect x="1108.9" y="388" width="14.9" height="8" fill="#f9f9ee"/>
<text x="1123.4" y="395.4" textLength="13.8" lengthAdjust="spacingAndGlyphs" stroke="#6e6f72" stroke-width="0.2">400</text>
<rect x="1108.9" y="355.3" width="14.9" height="8" fill="#f9f9ee"/>
<text x="1123.4" y="362.7" textLength="13.8" lengthAdjust="spacingAndGlyphs" stroke="#6e6f72" stroke-width="0.2">600</text>
<rect x="1108.9" y="322.8" width="14.9" height="8" fill="#f9f9ee"/>
<text x="1123.4" y="330.2" textLength="13.8" lengthAdjust="spacingAndGlyphs" stroke="#6e6f72" stroke-width="0.2">800</text>
<rect x="1104.7" y="291.4" width="19.1" height="8" fill="#f9f9ee"/>
<text x="1123.4" y="298.8" textLength="18.0" lengthAdjust="spacingAndGlyphs" stroke="#6e6f72" stroke-width="0.2">1000</text>
</g>
<circle cx="96.2" cy="434.6" r="5.3" fill="#111" stroke="#fff" stroke-width="1.2"/>
<circle cx="595" cy="246.2" r="5.3" fill="#111" stroke="#fff" stroke-width="1.2"/>
<circle cx="727.2" cy="421.4" r="5.3" fill="#111" stroke="#fff" stroke-width="1.2"/>
<circle cx="901.3" cy="310.2" r="5.3" fill="#111" stroke="#fff" stroke-width="1.2"/>
<circle cx="1043.7" cy="357.8" r="5.3" fill="#111" stroke="#fff" stroke-width="1.2"/>
<circle cx="1127.6" cy="211.8" r="5.3" fill="#111" stroke="#fff" stroke-width="1.2"/>
<g font-family='"Liberation Sans", sans-serif'>
<text transform="translate(117.67,392.7) rotate(-90)" font-size="16.5" fill="#525356" stroke="#525356" stroke-width="0.45" textLength="108.0" lengthAdjust="spacingAndGlyphs">136 - Ponte Nuovo</text>
<text transform="translate(173.37,392.7) rotate(-90)" font-size="16.5" fill="#525356" stroke="#525356" stroke-width="0.45" textLength="76.0" lengthAdjust="spacingAndGlyphs">138 - Trecate</text>
<text transform="translate(223.87,388.7) rotate(-90)" font-size="16.5" fill="#525356" stroke="#525356" stroke-width="0.45" textLength="73.4" lengthAdjust="spacingAndGlyphs">155 - Novara</text>
<text transform="translate(277.37,385.2) rotate(-90)" font-size="16.5" fill="#525356" stroke="#525356" stroke-width="0.45" textLength="93.9" lengthAdjust="spacingAndGlyphs">178 - Caltignaga</text>
<text transform="translate(317.67,380.7) rotate(-90)" font-size="16.5" fill="#525356" stroke="#525356" stroke-width="0.45" textLength="70.7" lengthAdjust="spacingAndGlyphs">213 - Momo</text>
<text transform="translate(372.37,373.0) rotate(-90)" font-size="16.5" fill="#525356" stroke="#525356" stroke-width="0.45" textLength="99.6" lengthAdjust="spacingAndGlyphs">262 - Baraggione</text>
<text transform="translate(413.47,366.1) rotate(-90)" font-size="16.5" fill="#525356" stroke="#525356" stroke-width="0.45" textLength="112.5" lengthAdjust="spacingAndGlyphs">309 - Borgomanero</text>
<text transform="translate(448.07,358.6) rotate(-90)" font-size="16.5" fill="#525356" stroke="#525356" stroke-width="0.45" textLength="81.6" lengthAdjust="spacingAndGlyphs">355 - Gozzano</text>
<text transform="translate(487.77,355.6) rotate(-90)" font-size="16.5" fill="#525356" stroke="#525356" stroke-width="0.45" textLength="120.0" lengthAdjust="spacingAndGlyphs">317 - Orta San Giulio</text>
<text transform="translate(517.77,317.5) rotate(-90)" font-size="16.5" fill="#525356" stroke="#525356" stroke-width="0.45" textLength="79.5" lengthAdjust="spacingAndGlyphs">538 - Armeno</text>
<text transform="translate(580.00,197.6) rotate(-90)" font-size="17" font-weight="bold" fill="#111" stroke="#111" stroke-width="0.55" textLength="123.0" lengthAdjust="spacingAndGlyphs">1341 - MOTTARONE</text>
<text transform="translate(639.97,296.3) rotate(-90)" font-size="16.5" fill="#525356" stroke="#525356" stroke-width="0.45" textLength="80.0" lengthAdjust="spacingAndGlyphs">668 - Gignese</text>
<text transform="translate(687.47,361.0) rotate(-90)" font-size="16.5" fill="#525356" stroke="#525356" stroke-width="0.45" textLength="70.0" lengthAdjust="spacingAndGlyphs">205 - Stresa</text>
<text transform="translate(711.61,381.5) rotate(-90)" font-size="17" font-weight="bold" fill="#111" stroke="#111" stroke-width="0.55" textLength="87.0" lengthAdjust="spacingAndGlyphs">203 - BAVENO</text>
<text transform="translate(729.77,381.5) rotate(-90)" font-size="16.5" fill="#525356" stroke="#525356" stroke-width="0.45" textLength="72.0" lengthAdjust="spacingAndGlyphs">206 - Feriolo</text>
<text transform="translate(753.37,375.0) rotate(-90)" font-size="16.5" fill="#525356" stroke="#525356" stroke-width="0.45" textLength="124.6" lengthAdjust="spacingAndGlyphs">212 - Gravellona Toce</text>
<text transform="translate(793.37,362.0) rotate(-90)" font-size="16.5" fill="#525356" stroke="#525356" stroke-width="0.45" textLength="81.6" lengthAdjust="spacingAndGlyphs">291 - Omegna</text>
<text transform="translate(831.87,338.6) rotate(-90)" font-size="16.5" fill="#525356" stroke="#525356" stroke-width="0.45" textLength="74.1" lengthAdjust="spacingAndGlyphs">487 - Cesara</text>
<text transform="translate(886.50,264.0) rotate(-90)" font-size="17" font-weight="bold" fill="#111" stroke="#111" stroke-width="0.55" textLength="173.0" lengthAdjust="spacingAndGlyphs">928 - PASSO DELLA COLMA</text>
<text transform="translate(950.17,340.0) rotate(-90)" font-size="16.5" fill="#525356" stroke="#525356" stroke-width="0.45" textLength="71.0" lengthAdjust="spacingAndGlyphs">445 - Varallo</text>
<text transform="translate(1028.91,317.5) rotate(-90)" font-size="17" font-weight="bold" fill="#111" stroke="#111" stroke-width="0.55" textLength="100.0" lengthAdjust="spacingAndGlyphs">601 - SCOPETTA</text>
<text transform="translate(1054.37,303.5) rotate(-90)" font-size="16.5" fill="#525356" stroke="#525356" stroke-width="0.45" textLength="82.5" lengthAdjust="spacingAndGlyphs">659 - Scopello</text>
</g>
<g transform="translate(595.2,462.8)"><circle r="14.8" fill="url(#gkom)" stroke="#161c55" stroke-width="1.2"/><ellipse cx="0" cy="-11.4" rx="4.2" ry="2.1" fill="#9dc0ee" opacity="0.9"/><polygon points="-12,-6.6 12,-6.6 0,13" fill="#fff"/><polygon points="-0.2,-4.9 2.9,-4.9 1.1,7.2 -2.2,7.2 -0.9,-1.9 -3.1,-1.3 -2.8,-3.4" fill="#111"/></g>
<g transform="translate(901.3,462.8)"><circle r="14.8" fill="url(#gkom)" stroke="#161c55" stroke-width="1.2"/><ellipse cx="0" cy="-11.4" rx="4.2" ry="2.1" fill="#9dc0ee" opacity="0.9"/><polygon points="-12,-6.6 12,-6.6 0,13" fill="#fff"/><text x="-0.2" y="7.3" text-anchor="middle" font-family='"Liberation Sans", sans-serif' font-size="17.2" font-weight="bold" font-style="italic" fill="#111" stroke="#111" stroke-width="0.5" textLength="8.4" lengthAdjust="spacingAndGlyphs">3</text></g>
<g transform="translate(1127.8,462.8)"><circle r="14.8" fill="url(#gkom)" stroke="#161c55" stroke-width="1.2"/><ellipse cx="0" cy="-11.4" rx="4.2" ry="2.1" fill="#9dc0ee" opacity="0.9"/><polygon points="-12,-6.6 12,-6.6 0,13" fill="#fff"/><polygon points="-0.2,-4.9 2.9,-4.9 1.1,7.2 -2.2,7.2 -0.9,-1.9 -3.1,-1.3 -2.8,-3.4" fill="#111"/></g>
<g transform="translate(727.3,462.7)"><circle r="14.8" fill="url(#gspr)" stroke="#5e0842" stroke-width="1.2"/><ellipse cx="-2" cy="-7" rx="9" ry="5.5" fill="#f45cc6" opacity="0.35"/><g transform="skewX(-12)"><path d="M6.6,-6.3 C3.6,-7.6 -1.2,-7.9 -3.8,-6.4 C-6.6,-4.8 -6.2,-1.6 -3,-0.4 C0,0.7 3,1 4.4,2.6 C6,4.6 4.2,6.8 1.2,7.2 C-1.8,7.6 -4.6,7.2 -6.8,6.2" fill="none" stroke="#3a0428" stroke-width="5.7" stroke-linejoin="round" stroke-linecap="round"/><path d="M6.6,-6.3 C3.6,-7.6 -1.2,-7.9 -3.8,-6.4 C-6.6,-4.8 -6.2,-1.6 -3,-0.4 C0,0.7 3,1 4.4,2.6 C6,4.6 4.2,6.8 1.2,7.2 C-1.8,7.6 -4.6,7.2 -6.8,6.2" fill="none" stroke="#fff" stroke-width="3.7" stroke-linejoin="round" stroke-linecap="round"/></g></g>
<g transform="translate(1043.7,462.7)"><circle r="14.8" fill="url(#gspr)" stroke="#5e0842" stroke-width="1.2"/><ellipse cx="-2" cy="-7" rx="9" ry="5.5" fill="#f45cc6" opacity="0.35"/><g transform="skewX(-12)"><path d="M6.6,-6.3 C3.6,-7.6 -1.2,-7.9 -3.8,-6.4 C-6.6,-4.8 -6.2,-1.6 -3,-0.4 C0,0.7 3,1 4.4,2.6 C6,4.6 4.2,6.8 1.2,7.2 C-1.8,7.6 -4.6,7.2 -6.8,6.2" fill="none" stroke="#3a0428" stroke-width="5.7" stroke-linejoin="round" stroke-linecap="round"/><path d="M6.6,-6.3 C3.6,-7.6 -1.2,-7.9 -3.8,-6.4 C-6.6,-4.8 -6.2,-1.6 -3,-0.4 C0,0.7 3,1 4.4,2.6 C6,4.6 4.2,6.8 1.2,7.2 C-1.8,7.6 -4.6,7.2 -6.8,6.2" fill="none" stroke="#fff" stroke-width="3.7" stroke-linejoin="round" stroke-linecap="round"/></g></g>
<g transform="translate(238.8,486.5)"><circle r="7.8" fill="#fff" stroke="#111" stroke-width="1.1"/><path d="M-2.1,-6.4 V6.4 M2.1,-6.4 V6.4" stroke="#111" stroke-width="1.4" fill="none"/><path d="M-4.4,-4.8 H4.4 M-4.9,-2.4 H4.9 M-4.9,0 H4.9 M-4.9,2.4 H4.9 M-4.4,4.8 H4.4" stroke="#111" stroke-width="1.15" fill="none"/></g>
<g transform="translate(960.8,486.3)"><circle r="7.8" fill="#fff" stroke="#111" stroke-width="1.1"/><path d="M-4.6,4.4 V-0.8 A4.6,4.6 0 0 1 4.6,-0.8 V4.4 Z" fill="#4a4a4e"/><path d="M-2.9,4.4 V-0.6 A2.9,2.9 0 0 1 2.9,-0.6 V4.4 Z" fill="#fff"/><path d="M-2.1,4.4 V-0.4 A2.1,2.1 0 0 1 2.1,-0.4 V4.4 Z" fill="#111"/></g>
<path d="M33.7,158.6 H60.3 Q66.3,158.6 66.3,164.6 V430.3 A19.299999999999997,19.299999999999997 0 0 1 27.7,430.3 V164.6 Q27.7,158.6 33.7,158.6 Z" fill="#149a3c"/><path d="M35.2,163.0 H58.8 Q61.9,163.0 61.9,166.1 V430.30000000000007 A14.899999999999999,14.899999999999999 0 0 1 32.1,430.30000000000007 V166.1 Q32.1,163.0 35.2,163.0 Z" fill="url(#gbox)"/>
<g font-family='"Liberation Sans", sans-serif'>
<text transform="translate(55.85,406.2) rotate(-90)" font-size="25" font-weight="bold" fill="#111" stroke="#111" stroke-width="0.6" textLength="37.9" lengthAdjust="spacingAndGlyphs">124</text>
<text transform="translate(55.85,361.9) rotate(-90)" font-size="25" font-weight="bold" fill="#111" stroke="#111" stroke-width="0.6" textLength="6.0" lengthAdjust="spacingAndGlyphs">-</text>
<text transform="translate(55.85,348.3) rotate(-90)" font-size="25" font-weight="bold" fill="#111" stroke="#111" stroke-width="0.6" textLength="87.4" lengthAdjust="spacingAndGlyphs">ABBIATE</text>
<text transform="translate(55.85,259.5) rotate(-90)" font-size="25" font-weight="bold" fill="#111" stroke="#111" stroke-width="0.6" textLength="89.7" lengthAdjust="spacingAndGlyphs">GRASSO</text>
</g>
<g transform="translate(46.9,430.7)"><circle r="15.1" fill="url(#ggreen)" stroke="#07300f" stroke-width="2"/><g fill="none" stroke="#fff" stroke-linecap="round" stroke-linejoin="round"><circle cx="-7.6" cy="4.6" r="4.1" stroke-width="1.7"/><circle cx="7.6" cy="4.4" r="4.1" stroke-width="1.7"/><path d="M-7.6,4.6 L-2.5,-0.5 L5,-0.8 L7.6,4.4 M-2.5,-0.5 L0.3,4.8 L5,-0.8" stroke-width="1.3"/><path d="M-5.5,-3.2 Q-4,-8.2 2.2,-8.4 L5.6,-5.2 L3.2,-1.6 M-4.5,-3.5 L0.6,-1.6 L0.2,4.4" stroke-width="3.2"/></g><circle cx="4.6" cy="-9" r="2.3" fill="#fff"/></g>
<path d="M1144.2,13.2 H1170.8 Q1176.8,13.2 1176.8,19.2 V367.50000000000006 A19.299999999999955,19.299999999999955 0 0 1 1138.2,367.50000000000006 V19.2 Q1138.2,13.2 1144.2,13.2 Z" fill="#dd0a14"/><path d="M1145.7,17.6 H1169.3 Q1172.3999999999999,17.6 1172.3999999999999,20.700000000000003 V367.50000000000017 A14.899999999999864,14.899999999999864 0 0 1 1142.6000000000001,367.50000000000017 V20.700000000000003 Q1142.6000000000001,17.6 1145.7,17.6 Z" fill="url(#gbox)"/>
<g font-family='"Liberation Sans", sans-serif'>
<text transform="translate(1167.01,345.3) rotate(-90)" font-size="24.6" font-weight="bold" fill="#111" stroke="#111" stroke-width="0.6" textLength="42.3" lengthAdjust="spacingAndGlyphs">1531</text>
<text transform="translate(1167.01,292.0) rotate(-90)" font-size="24.6" font-weight="bold" fill="#111" stroke="#111" stroke-width="0.6" textLength="7.2" lengthAdjust="spacingAndGlyphs">-</text>
<text transform="translate(1167.01,275.3) rotate(-90)" font-size="24.6" font-weight="bold" fill="#111" stroke="#111" stroke-width="0.6" textLength="52.3" lengthAdjust="spacingAndGlyphs">ALPE</text>
<text transform="translate(1167.01,214.6) rotate(-90)" font-size="24.6" font-weight="bold" fill="#111" stroke="#111" stroke-width="0.6" textLength="18.4" lengthAdjust="spacingAndGlyphs">DI</text>
<text transform="translate(1167.01,189.3) rotate(-90)" font-size="24.6" font-weight="bold" fill="#111" stroke="#111" stroke-width="0.6" textLength="61.9" lengthAdjust="spacingAndGlyphs">MERA</text>
<text transform="translate(1167.01,119.3) rotate(-90)" font-size="24.6" font-weight="bold" fill="#111" stroke="#111" stroke-width="0.6" textLength="94.5" lengthAdjust="spacingAndGlyphs">(Valsesia)</text>
</g>
<g transform="translate(1157.3,367.1)"><circle r="14.9" fill="url(#gred)" stroke="#1c0606" stroke-width="2"/><path d="M-12,-2 Q-9,-10 -4,-11 L-3,-1 Z M2,-6 Q7,-12 10,-6 Q13,-3 12.5,1 L3,0 Z" fill="#f2562a" opacity="0.75"/><g fill="none" stroke="#fff" stroke-linecap="round" stroke-linejoin="round"><circle cx="-7.3" cy="5.2" r="3.7" stroke-width="1.8"/><circle cx="7.3" cy="4.8" r="3.7" stroke-width="1.8"/><path d="M-7.3,5.2 L-2,0.6 L5,0.2 L7.3,4.8 M-2,0.6 L0.4,5 L5,0.2" stroke-width="1.3"/><path d="M-2.2,0.5 L-3.2,-6.5 Q-3,-11.5 -0.2,-12.6" stroke-width="3.8"/><path d="M-2.4,-6 Q1,-3 5.4,-0.6 M-2,0.6 L0.6,4.6" stroke-width="2.2"/></g><circle cx="0.4" cy="-13" r="2.1" fill="#fff"/></g>
<g transform="translate(1150.6,447.2) rotate(-90) scale(0.985,0.9)" fill="none" stroke="#111" stroke-width="2.35" stroke-linecap="round" stroke-linejoin="round"><path d="M9.8,-9.6 C8,-11.4 2.4,-11.6 1.8,-8.6 C1.2,-5.6 9.6,-6.2 9.4,-2.8 C9.2,0.2 3,0.2 0.8,-1.8"/><path d="M14.4,-11 C19,-10.8 25.6,-8 25.6,-5.6 C25.6,-3.2 19,-0.4 14.4,-0.2"/><path d="M38.6,-9.6 C36.8,-11.4 31.2,-11.6 30.6,-8.6 C30,-5.6 38.4,-6.2 38.2,-2.8 C38,0.2 31.8,0.2 29.6,-1.8"/></g>
<g stroke="#b4b4b4" stroke-width="1.5" fill="none">
<path d="M96.7,566 V579.6 H1127.2 V566"/>
<line x1="151.3" x2="151.3" y1="566" y2="579.6"/>
<line x1="595" x2="595" y1="566" y2="579.6"/>
<line x1="900.9" x2="900.9" y1="566" y2="579.6"/>
</g>
<g font-family='"Liberation Sans", sans-serif' font-size="17" fill="#b9b9b9" text-anchor="middle">
<text x="119.3" y="574.4" textLength="14.5" lengthAdjust="spacingAndGlyphs">MI</text>
<text x="372.3" y="574.4" textLength="18.5" lengthAdjust="spacingAndGlyphs">NO</text>
<text x="746.7" y="574.4" textLength="17" lengthAdjust="spacingAndGlyphs">VB</text>
<text x="1011.7" y="574.4" textLength="17.5" lengthAdjust="spacingAndGlyphs">VC</text>
</g>
</svg>
</body></html>
